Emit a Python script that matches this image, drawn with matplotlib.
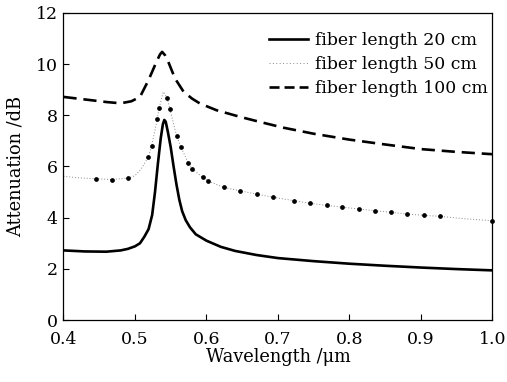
import numpy as np
import matplotlib
matplotlib.use("Agg")
import matplotlib.pyplot as plt
from matplotlib.lines import Line2D

## Données

wl_20 = [0.40, 0.43, 0.46, 0.48, 0.49, 0.50, 0.507, 0.513, 0.519, 0.524, 0.528, 0.532,
         0.536, 0.539, 0.541, 0.543, 0.546, 0.55, 0.554, 0.558, 0.562, 0.566, 0.571,
         0.577, 0.585, 0.60, 0.62, 0.64, 0.67, 0.70, 0.75, 0.80, 0.85, 0.90, 0.95, 1.0]
att_20 = [2.72, 2.68, 2.67, 2.72, 2.78, 2.88, 3.0, 3.25, 3.55, 4.1, 5.0, 6.1,
          7.1, 7.65, 7.82, 7.75, 7.35, 6.75, 6.0, 5.3, 4.7, 4.25, 3.9,
          3.62, 3.35, 3.1, 2.86, 2.7, 2.54, 2.42, 2.3, 2.2, 2.12, 2.05, 1.99, 1.94]

wl_50 = [0.40, 0.42, 0.445, 0.4674, 0.4907, 0.50, 0.507, 0.512, 0.5187, 0.5233, 0.5312,
         0.5336, 0.5396, 0.5452, 0.549, 0.5583, 0.564, 0.5746, 0.5793, 0.5947, 0.6026,
         0.6245, 0.6469, 0.670, 0.6934, 0.723, 0.745, 0.768, 0.790, 0.813, 0.836, 0.858,
         0.881, 0.904, 0.927, 0.96, 1.0]
att_50 = [5.62, 5.56, 5.52, 5.49, 5.55, 5.64, 5.85, 6.05, 6.38, 6.8, 7.85,
          8.27, 8.92, 8.66, 8.23, 7.19, 6.77, 6.14, 5.92, 5.57, 5.43,
          5.18, 5.05, 4.92, 4.80, 4.66, 4.56, 4.48, 4.41, 4.34, 4.27, 4.21,
          4.14, 4.09, 4.05, 3.96, 3.88]
# indices des points marqués (gros points noirs)
dots_50 = [2, 3, 4, 8, 9, 10, 11, 13, 14, 15, 16, 17, 18, 19, 20, 21, 22, 23, 24,
           25, 26, 27, 28, 29, 30, 31, 32, 33, 34, 36]

wl_100 = [0.40, 0.43, 0.46, 0.48, 0.495, 0.507, 0.519, 0.53, 0.535, 0.538, 0.542, 0.5466,
          0.556, 0.568, 0.58, 0.591, 0.614, 0.647, 0.675, 0.707, 0.75, 0.80, 0.85, 0.90,
          0.95, 1.0]
att_100 = [8.72, 8.62, 8.52, 8.47, 8.55, 8.72, 9.38, 10.09, 10.38, 10.48, 10.35, 10.09,
           9.44, 8.92, 8.65, 8.46, 8.2, 7.94, 7.74, 7.52, 7.28, 7.05, 6.86, 6.68,
           6.57, 6.48]

labels = ["fiber length 20 cm", "fiber length 50 cm", "fiber length 100 cm"]
xticks = [0.4, 0.5, 0.6, 0.7, 0.8, 0.9, 1.0]
yticks = [0, 2, 4, 6, 8, 10, 12]

## Graphique

plt.rcParams["font.family"] = ["DejaVu Serif"]
plt.rcParams["mathtext.fontset"] = "dejavuserif"

fig = plt.figure(figsize=(5.07, 3.82), dpi=100)
ax = fig.add_axes([0.1252, 0.1623, 0.8462, 0.8037])

ax.plot(wl_20, att_20, "-", color="black", linewidth=1.9)
ax.plot(wl_50, att_50, linestyle=(0, (1, 2)), color="#888888", linewidth=0.7)
ax.plot(wl_50, att_50, linestyle="none", marker="o", markersize=2.4, color="black",
        markevery=dots_50, clip_on=False)
ax.plot(wl_100, att_100, color="black", linewidth=1.9, linestyle=(0, (5, 2.6)))

handles = [Line2D([], [], color="black", linewidth=1.9),
           Line2D([], [], color="#888888", linewidth=0.7, linestyle=(0, (1, 2.5))),
           Line2D([], [], color="black", linewidth=1.9, linestyle=(0, (3.8, 1.9)))]
ax.legend(handles, labels, loc="upper right", frameon=False, fontsize=12.4,
          handlelength=2.3, handletextpad=0.4, labelspacing=0.42,
          borderaxespad=0.0, bbox_to_anchor=(1.006, 0.961))

ax.set_xlim(0.4, 1.0)
ax.set_ylim(0, 12)
ax.set_xticks(xticks)
ax.set_xticklabels(["%.1f" % v for v in xticks])
ax.set_yticks(yticks)
ax.tick_params(direction="in", length=4, width=0.8, labelsize=12.5)
ax.tick_params(axis="x", pad=8)
ax.tick_params(axis="y", pad=4)
ax.set_xlabel("Wavelength /μm", fontsize=12.8, labelpad=0)
ax.set_ylabel("Attenuation /dB", fontsize=12.8, labelpad=8)
for s in ax.spines.values():
    s.set_linewidth(0.9)

fig.savefig("out.png", dpi=100)
